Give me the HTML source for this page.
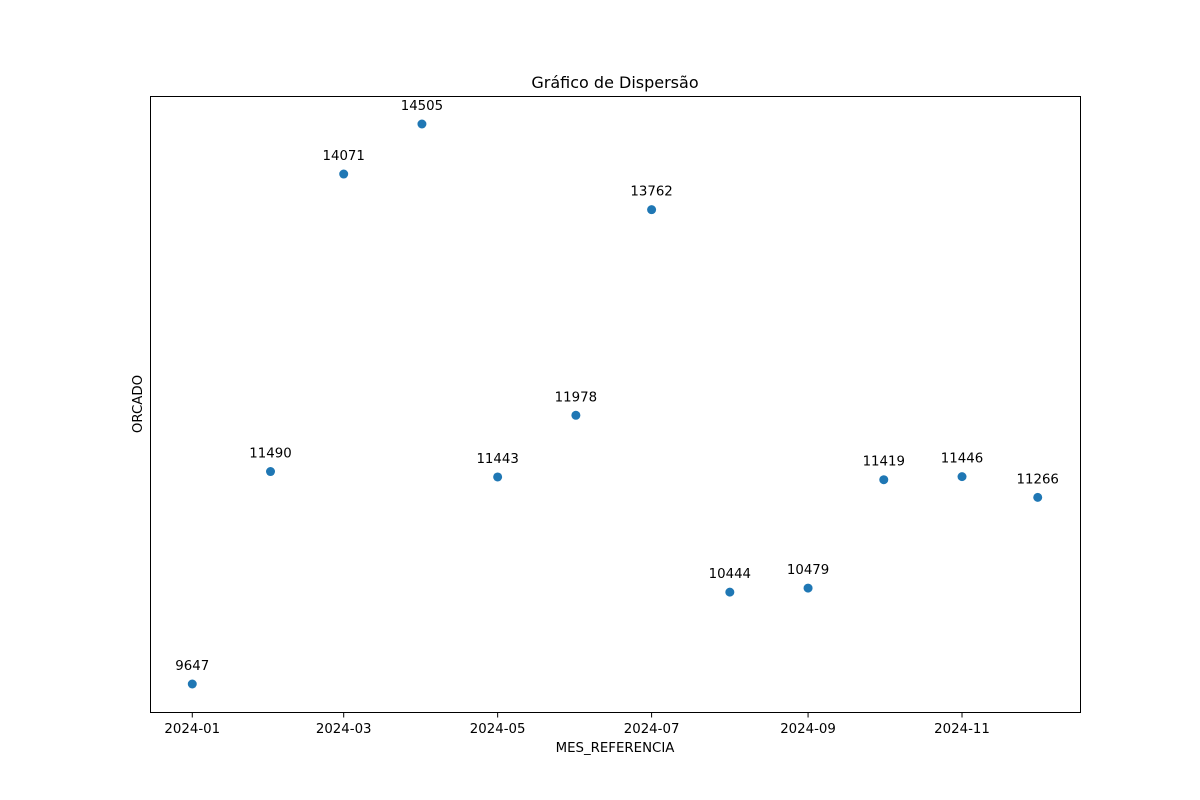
<!DOCTYPE html>
<html><head><meta charset="utf-8"><style>
body{margin:0;background:#fff;}
svg{display:block;font-family:"DejaVu Sans","Liberation Sans",sans-serif;}
</style></head><body>
<svg id="chart" width="1200" height="800">
<rect x="0" y="0" width="1200" height="800" fill="#fff"/>
<text x="615" y="88" font-size="16" text-anchor="middle">Gráfico de Dispersão</text>
<g id="marks"></g>
<rect x="150.5" y="96.5" width="930" height="616" fill="none" stroke="#000" stroke-width="1"/>
<g id="xticks"></g>
<text x="615" y="752" font-size="13.33" text-anchor="middle">MES_REFERENCIA</text>
<text x="142" y="404" font-size="13.33" text-anchor="middle" transform="rotate(-90 142 404)">ORCADO</text>
</svg>
<script>
const months = ["2024-01-01","2024-02-01","2024-03-01","2024-04-01","2024-05-01","2024-06-01","2024-07-01","2024-08-01","2024-09-01","2024-10-01","2024-11-01","2024-12-01"];
const values = [9647,11490,14071,14505,11443,11978,13762,10444,10479,11419,11446,11266];
const tickLabels = ["2024-01","2024-03","2024-05","2024-07","2024-09","2024-11"];

const NS="http://www.w3.org/2000/svg";
const L=150,R=1080,T=96,B=712;
const days=d=>Date.parse(d+"T00:00:00Z")/86400000;
const xs=months.map(days);
const xmin=Math.min(...xs),xmax=Math.max(...xs),xm=(xmax-xmin)*0.05;
const ymin=Math.min(...values),ymax=Math.max(...values),ym=(ymax-ymin)*0.05;
const X=v=>L+(v-(xmin-xm))/((xmax+xm)-(xmin-xm))*(R-L);
const Y=v=>B-(v-(ymin-ym))/((ymax+ym)-(ymin-ym))*(B-T);
const marks=document.getElementById('marks');
months.forEach((m,i)=>{
  const cx=X(xs[i]),cy=Y(values[i]);
  const c=document.createElementNS(NS,'circle');
  c.setAttribute('cx',cx);c.setAttribute('cy',cy);c.setAttribute('r',4.5);c.setAttribute('fill','#1f77b4');
  
  
  marks.appendChild(c);
  const t=document.createElementNS(NS,'text');
  t.setAttribute('x',cx);t.setAttribute('y',cy-14);t.setAttribute('font-size','13.33');t.setAttribute('text-anchor','middle');
  t.textContent=values[i];
  
  
  marks.appendChild(t);
});
const xt=document.getElementById('xticks');
tickLabels.forEach(lab=>{
  const x=X(days(lab+"-01"));
  const l=document.createElementNS(NS,'line');
  l.setAttribute('x1',x);l.setAttribute('x2',x);l.setAttribute('y1',712.5);l.setAttribute('y2',717.5);l.setAttribute('stroke','#000');
  
  
  xt.appendChild(l);
  const t=document.createElementNS(NS,'text');
  t.setAttribute('x',x);t.setAttribute('y',733);t.setAttribute('font-size','13.33');t.setAttribute('text-anchor','middle');
  t.textContent=lab;
  
  
  xt.appendChild(t);
});
</script>
</body></html>
